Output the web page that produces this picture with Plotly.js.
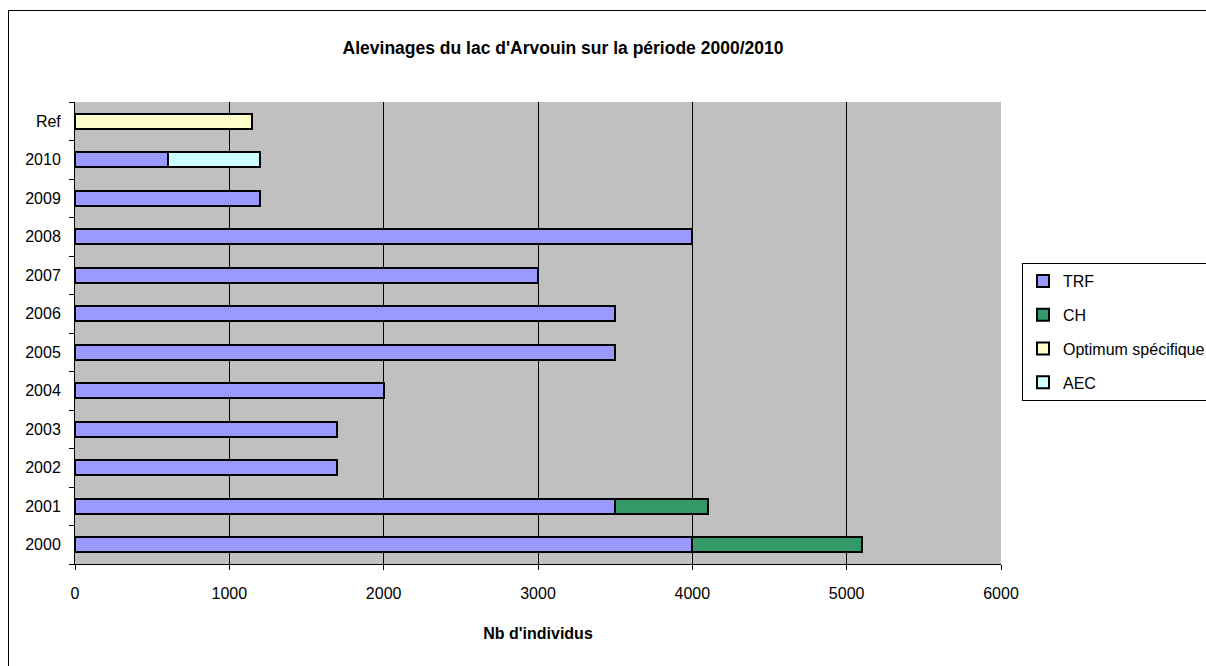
<!DOCTYPE html>
<html>
<head>
<meta charset="utf-8">
<script src="https://cdn.plot.ly/plotly-3.0.1.min.js"></script>
<style>
  html, body { margin: 0; padding: 0; background: #ffffff; overflow: hidden; }
  #wrap { position: relative; width: 1206px; height: 666px; overflow: hidden; }
  #chart { position: absolute; left: 0; top: 0; width: 1206px; height: 666px; }
  #frame { position: absolute; left: 8px; top: 10px; width: 1400px; height: 900px;
           border: 1px solid #000; pointer-events: none; }
</style>
</head>
<body>
<div id="wrap">
  <div id="chart"></div>
  <div id="frame"></div>
</div>
<script>
// ---- data ----
const categories = ['2000','2001','2002','2003','2004','2005','2006','2007','2008','2009','2010','Ref'];
const trfValues     = [4000, 3500, 1700, 1700, 2000, 3500, 3500, 3000, 4000, 1200, 600, null];
const chValues      = [1100, 600, null, null, null, null, null, null, null, null, null, null];
const optimumValues = [null, null, null, null, null, null, null, null, null, null, null, 1150];
const aecValues     = [null, null, null, null, null, null, null, null, null, null, 600, null];
const seriesNames   = ['TRF', 'CH', 'Optimum spécifique', 'AEC'];
const xTicks        = [0, 1000, 2000, 3000, 4000, 5000, 6000];
const titleText     = "Alevinages du lac d'Arvouin sur la période 2000/2010";
const xTitleText    = "Nb d'individus";

const colors = ['#9999FF', '#339966', '#FFFFCC', '#CCFFFF'];
const seriesValues = [trfValues, chValues, optimumValues, aecValues];
const FONT = '"Liberation Sans", Arial, sans-serif';

const traces = seriesValues.map((vals, i) => ({
  type: 'bar',
  orientation: 'h',
  name: seriesNames[i],
  legendgroup: 'g' + i,
  y: categories,
  x: vals,
  width: 0.39,
  marker: { color: colors[i], line: { color: '#000000', width: 2 } },
  hoverinfo: 'x+y+name'
}));

const layout = {
  width: 1206,
  height: 666,
  paper_bgcolor: 'rgba(0,0,0,0)',
  plot_bgcolor: '#C0C0C0',
  margin: { l: 75, r: 205, t: 102, b: 102, autoexpand: false },
  barmode: 'stack',
  font: { family: FONT, color: '#000000', size: 16 },
  title: {
    text: titleText,
    font: { family: FONT, size: 17.5, color: '#000000', weight: 'bold' },
    xref: 'container', x: 563 / 1206, xanchor: 'center',
    yref: 'container', y: 1 - 48 / 666, yanchor: 'middle'
  },
  xaxis: {
    range: [0, 6000],
    tickvals: xTicks,
    ticktext: xTicks.map(String),
    showgrid: true,
    gridcolor: '#000000',
    gridwidth: 1,
    zeroline: false,
    showline: true,
    linecolor: '#000000',
    linewidth: 1,
    ticks: 'outside',
    ticklen: 5,
    tickcolor: '#000000',
    ticklabelstandoff: 10,
    tickfont: { family: FONT, size: 16, color: '#000000' },
    title: {
      text: xTitleText,
      font: { family: FONT, size: 16, color: '#000000', weight: 'bold' },
      standoff: 26
    },
    fixedrange: true
  },
  yaxis: {
    type: 'category',
    categoryorder: 'array',
    categoryarray: categories,
    range: [-0.5, categories.length - 0.5],
    showgrid: false,
    zeroline: false,
    showline: true,
    linecolor: '#000000',
    linewidth: 1,
    ticks: 'outside',
    tickson: 'boundaries',
    ticklen: 5,
    tickcolor: '#000000',
    ticklabelstandoff: 10,
    tickfont: { family: FONT, size: 16, color: '#000000' },
    fixedrange: true
  },
  legend: {
    x: (1022 - 75) / 926,
    xanchor: 'left',
    y: (564 - 263) / 462,
    yanchor: 'top',
    bgcolor: '#FFFFFF',
    bordercolor: '#000000',
    borderwidth: 1,
    traceorder: 'grouped',
    tracegroupgap: 10,
    font: { family: FONT, size: 16, color: '#000000' },
    itemwidth: 30
  },
  showlegend: true
};

Plotly.newPlot('chart', traces, layout, { displayModeBar: false, staticPlot: false });
</script>
</body>
</html>
